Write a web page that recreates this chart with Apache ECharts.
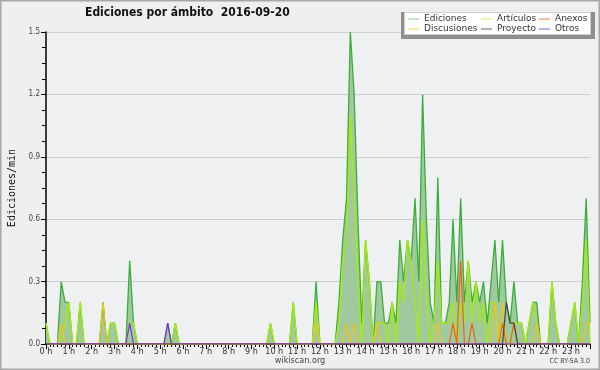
<!DOCTYPE html>
<html><head><meta charset="utf-8">
<script src="https://cdn.jsdelivr.net/npm/echarts@6/dist/echarts.min.js"></script>
<style>html,body{margin:0;padding:0;background:#efefef}#c{width:600px;height:370px}</style>
</head><body><div id="c"></div>
<script>
// 10-minute slots, 0:00 .. 23:50 (144 points), edits per minute
var hourLabels = ["0 h","1 h","2 h","3 h","4 h","5 h","6 h","7 h","8 h","9 h","10 h","11 h","12 h","13 h","14 h","15 h","16 h","17 h","18 h","19 h","20 h","21 h","22 h","23 h"];
var yTicks = ["0.0","0.3","0.6","0.9","1.2","1.5"];
var ediciones = [
 0.1,0,0,0,0.3,0.2,0.2,0,0,0.2,0,0,
 0,0,0,0.2,0,0.1,0.1,0,0,0,0.4,0.1,
 0,0,0,0,0,0,0,0,0.1,0,0.1,0,
 0,0,0,0,0,0,0,0,0,0,0,0,
 0,0,0,0,0,0,0,0,0,0,0,0.1,
 0,0,0,0,0,0.2,0,0,0,0,0,0.3,
 0,0,0,0,0,0.2,0.5,0.7,1.5,1.2,0.6,0.1,
 0.5,0.3,0,0.3,0.3,0.1,0.1,0.2,0.1,0.5,0.3,0.5,
 0.4,0.7,0.3,1.2,0.6,0.2,0.1,0.8,0.1,0.1,0.2,0.6,
 0.2,0.7,0.2,0.4,0.2,0.3,0.2,0.3,0.1,0.3,0.5,0.2,
 0.5,0.2,0.1,0.3,0.1,0.1,0,0.1,0.2,0.2,0,0,
 0,0.3,0.1,0,0,0,0.1,0.2,0,0.3,0.7,0.1
];
var articulos = [
 0.1,0,0,0,0,0.1,0.2,0,0,0.2,0,0,
 0,0,0,0,0,0.1,0.1,0,0,0,0.1,0.1,
 0,0,0,0,0,0,0,0,0,0,0.1,0,
 0,0,0,0,0,0,0,0,0,0,0,0,
 0,0,0,0,0,0,0,0,0,0,0,0.1,
 0,0,0,0,0,0.2,0,0,0,0,0,0.2,
 0,0,0,0,0,0.1,0.4,0.5,1.1,0.7,0.3,0,
 0.5,0.3,0,0.1,0.1,0.1,0,0.2,0,0.3,0.2,0.5,
 0.4,0.2,0,0.6,0.2,0,0.1,0.4,0.1,0.1,0.1,0.2,
 0,0.2,0.1,0.4,0.1,0.3,0.1,0.2,0,0.2,0.2,0,
 0.1,0,0,0.1,0.1,0.1,0,0.1,0.2,0.1,0,0,
 0,0.3,0.1,0,0,0,0.1,0.2,0,0.2,0.5,0
];
var discusiones = [
 0,0,0,0,0.1,0,0,0,0,0,0,0,
 0,0,0,0.2,0,0,0,0,0,0,0,0,
 0,0,0,0,0,0,0,0,0,0,0,0,
 0,0,0,0,0,0,0,0,0,0,0,0,
 0,0,0,0,0,0,0,0,0,0,0,0,
 0,0,0,0,0,0,0,0,0,0,0,0.1,
 0,0,0,0,0,0,0,0.1,0,0.1,0,0,
 0,0,0,0.1,0,0,0,0,0,0,0,0,
 0,0,0,0,0,0,0,0.1,0,0,0,0,
 0,0,0,0,0,0,0,0,0,0,0.2,0,
 0.2,0,0,0,0,0,0,0,0,0.1,0,0,
 0,0,0,0,0,0,0,0,0,0,0.1,0.1
];
var anexos = [
 0,0,0,0,0,0,0,0,0,0,0,0,
 0,0,0,0,0,0,0,0,0,0,0,0,
 0,0,0,0,0,0,0,0,0,0,0,0,
 0,0,0,0,0,0,0,0,0,0,0,0,
 0,0,0,0,0,0,0,0,0,0,0,0,
 0,0,0,0,0,0,0,0,0,0,0,0,
 0,0,0,0,0,0,0,0,0,0,0,0,
 0,0,0,0,0,0,0,0,0,0,0,0,
 0,0,0,0,0,0,0,0,0,0,0,0.1,
 0,0.4,0,0,0.1,0,0,0,0,0,0,0,
 0.1,0,0,0.1,0,0,0,0,0,0,0,0,
 0,0,0,0,0,0,0,0,0,0,0,0
];
var proyecto = [
 0,0,0,0,0,0,0,0,0,0,0,0,
 0,0,0,0,0,0,0,0,0,0,0,0,
 0,0,0,0,0,0,0,0,0,0,0,0,
 0,0,0,0,0,0,0,0,0,0,0,0,
 0,0,0,0,0,0,0,0,0,0,0,0,
 0,0,0,0,0,0,0,0,0,0,0,0,
 0,0,0,0,0,0,0,0,0,0,0,0,
 0,0,0,0,0,0,0,0,0,0,0,0,
 0,0,0,0,0,0,0,0,0,0,0,0,
 0,0,0,0,0,0,0,0,0,0,0,0,
 0,0.2,0.1,0.1,0,0,0,0,0,0,0,0,
 0,0,0,0,0,0,0,0,0,0,0,0
];
var otros = [
 0,0,0,0,0,0,0,0,0,0,0,0,
 0,0,0,0,0,0,0,0,0,0,0.1,0,
 0,0,0,0,0,0,0,0,0.1,0,0,0,
 0,0,0,0,0,0,0,0,0,0,0,0,
 0,0,0,0,0,0,0,0,0,0,0,0,
 0,0,0,0,0,0,0,0,0,0,0,0,
 0,0,0,0,0,0,0,0,0,0,0,0,
 0,0,0,0,0,0,0,0,0,0,0,0,
 0,0,0,0,0,0,0,0,0,0,0,0,
 0,0,0,0,0,0,0,0,0,0,0,0,
 0,0,0,0,0,0,0,0,0,0,0,0,
 0,0,0,0,0,0,0,0,0,0,0,0
];

function pts(arr){ return arr.map(function(v,i){ return [i,v]; }); }
var F = "DejaVu Sans Condensed, DejaVu Sans, sans-serif";
var chart = echarts.init(document.getElementById('c'), null, {renderer:'canvas'});
function lineSeries(name, data, color, w){
  return {name:name, type:'line', data:pts(data), symbol:'none', silent:true,
    lineStyle:{color:color, width:w||1.2}, itemStyle:{color:color}};
}
var legendText = {fontFamily:"DejaVu Sans, sans-serif", fontSize:9, lineHeight:10, color:'#333'};
function legendCol(left, items){
  return {orient:'vertical', left:left, top:14, padding:0, itemGap:0, itemWidth:11, itemHeight:1,
    icon:'rect', z:15, selectedMode:false, textStyle:legendText, data:items};
}
chart.setOption({
  animation:false,
  backgroundColor:'#efefef',
  textStyle:{fontFamily:F},
  title:[
    {text:'Ediciones por ámbito  2016-09-20', left:85, top:7, padding:0,
     textStyle:{fontFamily:F, fontWeight:'bold', fontSize:12, color:'#111'}},
    {text:'wikiscan.org', left:'center', top:356, padding:0,
     textStyle:{fontFamily:F, fontWeight:'normal', fontSize:9, color:'#444'}},
    {text:'CC BY-SA 3.0', right:10, top:358, padding:0,
     textStyle:{fontFamily:F, fontWeight:'normal', fontSize:7, color:'#444'}}
  ],
  graphic:[
    {type:'rect', shape:{x:401, y:12, width:194, height:27}, style:{fill:'#8f8f8f'}, z:10},
    {type:'rect', shape:{x:404.5, y:12.5, width:186, height:22}, style:{fill:'#ffffff', stroke:'#d0d0d0', lineWidth:1}, z:11},
    {type:'rect', shape:{x:0.5, y:0.5, width:599, height:369}, style:{fill:'none', stroke:'#a8a8a8', lineWidth:2}, z:20, silent:true}
  ],
  legend:[
    legendCol(408, [{name:'Ediciones', itemStyle:{color:'#8ed08e'}},{name:'Discusiones', itemStyle:{color:'#f5d040'}}]),
    legendCol(481, [{name:'Artículos', itemStyle:{color:'#c8ee55'}},{name:'Proyecto', itemStyle:{color:'#666'}}]),
    legendCol(539, [{name:'Anexos', itemStyle:{color:'#f08040'}},{name:'Otros', itemStyle:{color:'#9955ee'}}])
  ],
  grid:{left:46, right:10, top:32, bottom:26, show:true, backgroundColor:'#eef0f1', borderWidth:0,
        containLabel:false, outerBoundsMode:'none'},
  xAxis:{type:'value', min:0, max:143, interval:6,
    axisLine:{lineStyle:{color:'#000', width:1.5}},
    axisTick:{length:5, lineStyle:{color:'#000'}},
    minorTick:{show:true, splitNumber:6, length:3, lineStyle:{color:'#000'}},
    splitLine:{show:false},
    axisLabel:{showMaxLabel:false, margin:3, fontSize:9, color:'#333', fontFamily:F,
      formatter:function(v){ return hourLabels[v/6]; }}
  },
  yAxis:{type:'value', min:0, max:1.5, interval:0.3,
    name:'Ediciones/min', nameLocation:'middle', nameGap:29, nameRotate:90,
    nameTextStyle:{fontFamily:'DejaVu Sans Mono, monospace', fontSize:10, color:'#111'},
    axisLine:{show:true, lineStyle:{color:'#000', width:1.5}},
    axisTick:{show:true, length:5, lineStyle:{color:'#000'}},
    minorTick:{show:true, splitNumber:4, length:4, lineStyle:{color:'#000'}},
    splitLine:{show:true, lineStyle:{color:'#cfcfcf', width:1}},
    axisLabel:{fontSize:8, color:'#444', margin:6, fontFamily:F,
      formatter:function(v){ return yTicks[Math.round(v/0.3)]; }}
  },
  series:[
    {name:'Ediciones', type:'line', data:pts(ediciones), symbol:'none', silent:true,
     lineStyle:{color:'#3aae3a', width:1.3}, itemStyle:{color:'#8ed08e'},
     areaStyle:{color:'#a0c9a0', opacity:1}},
    lineSeries('Artículos', articulos, '#a6ea10', 1.4),
    lineSeries('Discusiones', discusiones, '#f2c418', 1.2),
    lineSeries('Anexos', anexos, '#f06018', 1.2),
    lineSeries('Proyecto', proyecto, '#444444', 1.2),
    lineSeries('Otros', otros, '#7a35e0', 1.2)
  ]
});
</script></body></html>
